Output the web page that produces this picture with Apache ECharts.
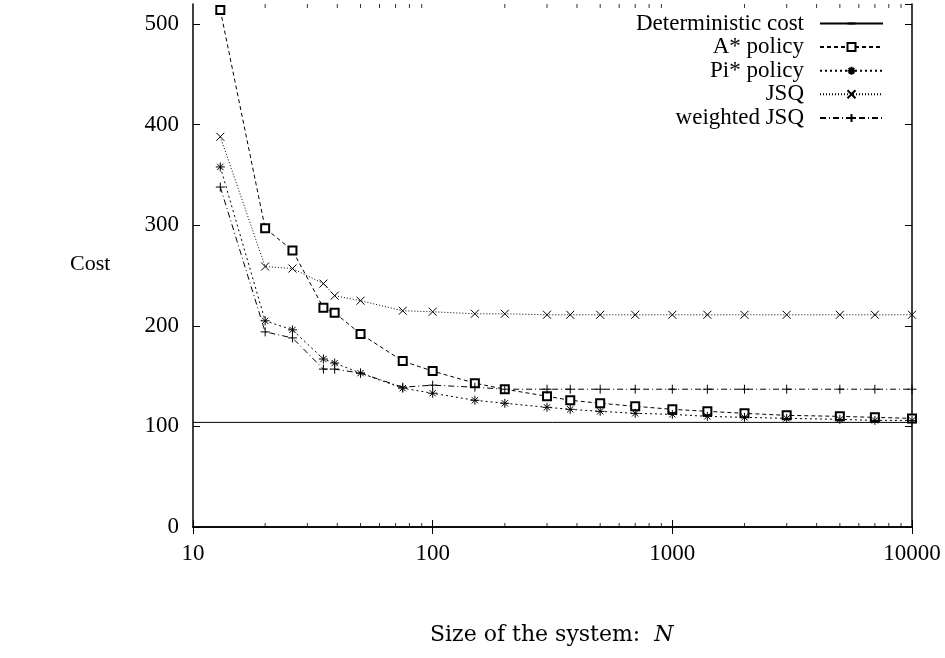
<!DOCTYPE html>
<html>
<head>
<meta charset="utf-8">
<script src="https://cdn.jsdelivr.net/npm/echarts@6/dist/echarts.min.js"></script>
<style>
html,body{margin:0;padding:0;background:#fff;}
#chart{width:945px;height:658px;}
</style>
</head>
<body>
<div id="chart"></div>
<script>
// ---- data ----
var nValues = [13, 20, 26, 35, 39, 50, 75, 100, 150, 200, 300, 375, 500, 700, 1000, 1400, 2000, 3000, 5000, 7000, 10000];
var aStarCost = [514, 297, 275, 218, 213, 192, 165, 155, 143, 137, 130, 126, 123, 120, 117, 115, 113, 111, 110, 109, 108];
var piStarCost = [358, 205, 196, 167, 163, 153, 138, 133, 126, 123, 119, 117, 115, 113, 112, 110, 109, 108, 107, 106, 106];
var jsqCost = [388, 259, 257, 242, 230, 225, 215, 214, 212, 212, 211, 211, 211, 211, 211, 211, 211, 211, 211, 211, 211];
var weightedJsqCost = [338, 194, 188, 157, 157, 153, 139, 141, 139, 137, 137, 137, 137, 137, 137, 137, 137, 137, 137, 137, 137];
var deterministicCost = 104;
var xMin = 10, xMax = 10000;
var yMin = 0, yMax = 520, yStep = 100;
var minorTickValues = [20, 30, 40, 50, 60, 70, 80, 90, 200, 300, 400, 500, 600, 700, 800, 900, 2000, 3000, 4000, 5000, 6000, 7000, 8000, 9000];
var seriesNames = ['Deterministic cost', 'A* policy', 'Pi* policy', 'JSQ', 'weighted JSQ'];

function pairs(xs, ys) { return xs.map(function (x, i) { return [x, ys[i]]; }); }

var serif = 'Liberation Serif';
var axisLine = { show: true, lineStyle: { color: '#000', width: 1.5 } };
var tickStyle = { show: true, inside: true, length: 7, lineStyle: { color: '#000', width: 1 } };
var labelStyle = { color: '#000', fontFamily: serif, fontSize: 23 };

var SYM_STAR = 'path://M5,0L5,10M0,5L10,5M1.5,1.5L8.5,8.5M1.5,8.5L8.5,1.5';
var SYM_X = 'path://M0,0L10,10M0,10L10,0';
var SYM_PLUS = 'path://M5,0L5,10M0,5L10,5';
var SYM_FLAT = 'path://M0,0L0,0M0,5L10,5M10,10L10,10';

function lineSeries(name, data, dash, symbol, size) {
  return {
    name: name, type: 'line', data: data,
    symbol: symbol, symbolSize: size, showAllSymbol: true,
    lineStyle: { color: '#000', width: 1, type: dash },
    itemStyle: { color: '#000', borderColor: '#000', borderWidth: 1 },
    emphasis: { disabled: true }
  };
}

var chart = echarts.init(document.getElementById('chart'), null, { renderer: 'canvas' });
chart.setOption({
  animation: false,
  backgroundColor: '#fff',
  grid: { left: 193, right: 33, top: 4, bottom: 131 },
  xAxis: [
    { type: 'log', logBase: 10, min: xMin, max: xMax, position: 'bottom',
      axisLine: axisLine, axisTick: tickStyle, splitLine: { show: false },
      axisLabel: Object.assign({ margin: 15, formatter: function (v) { return String(Math.round(v)); } }, labelStyle) },
    { type: 'log', logBase: 10, min: xMin, max: xMax, position: 'top',
      axisLine: axisLine, axisTick: tickStyle, splitLine: { show: false },
      axisLabel: { show: false } }
  ],
  yAxis: [
    { type: 'value', min: yMin, max: yMax, interval: yStep, position: 'left',
      axisLine: axisLine, axisTick: tickStyle, splitLine: { show: false },
      axisLabel: Object.assign({ margin: 14, showMaxLabel: false }, labelStyle) },
    { type: 'value', min: yMin, max: yMax, interval: yStep, position: 'right',
      axisLine: axisLine, axisTick: tickStyle, splitLine: { show: false },
      axisLabel: { show: false } }
  ],
  legend: {
    data: seriesNames,
    orient: 'vertical', align: 'right',
    right: 56, top: 7,
    itemWidth: 63, itemHeight: 10, itemGap: 0.6,
    textStyle: { color: '#000', fontFamily: serif, fontSize: 23, lineHeight: 23, padding: [0, 11, 0, 0] },
    selectedMode: false
  },
  graphic: [
    { type: 'text', left: 70, top: 253, style: { text: 'Cost', fontFamily: serif, fontSize: 22, fill: '#000' } },
    { type: 'text', left: 430, top: 624,
      style: { text: '{a|Size of the system:  }{b|N}', fill: '#000',
        rich: { a: { fontFamily: 'DejaVu Serif', fontSize: 22 }, b: { fontFamily: 'DejaVu Serif', fontSize: 22, fontStyle: 'italic' } } } }
  ],
  series: [
    { name: 'Deterministic cost', type: 'line', data: [[xMin, deterministicCost], [xMax, deterministicCost]],
      symbol: SYM_FLAT, showSymbol: false, lineStyle: { color: '#000', width: 1, type: 'solid' },
      itemStyle: { color: '#000', borderColor: '#000', borderWidth: 1 },
      emphasis: { disabled: true } },
    lineSeries('A* policy', pairs(nValues, aStarCost), [4, 3], 'emptyRect', 8),
    lineSeries('Pi* policy', pairs(nValues, piStarCost), [2, 3], SYM_STAR, 9),
    lineSeries('JSQ', pairs(nValues, jsqCost), [1, 2], SYM_X, 8),
    lineSeries('weighted JSQ', pairs(nValues, weightedJsqCost), [6, 3, 1, 3], SYM_PLUS, 9),
    { name: 'minorBottom', type: 'scatter', data: minorTickValues.map(function (v) { return [v, yMin]; }),
      symbol: 'rect', symbolSize: [1, 4], symbolOffset: [0, -2], itemStyle: { color: '#000' }, silent: true, clip: false, z: 10 },
    { name: 'minorTop', type: 'scatter', data: minorTickValues.map(function (v) { return [v, yMax]; }),
      symbol: 'rect', symbolSize: [1, 4], symbolOffset: [0, 2], itemStyle: { color: '#000' }, silent: true, clip: false, z: 10 }
  ]
});
</script>
</body>
</html>
